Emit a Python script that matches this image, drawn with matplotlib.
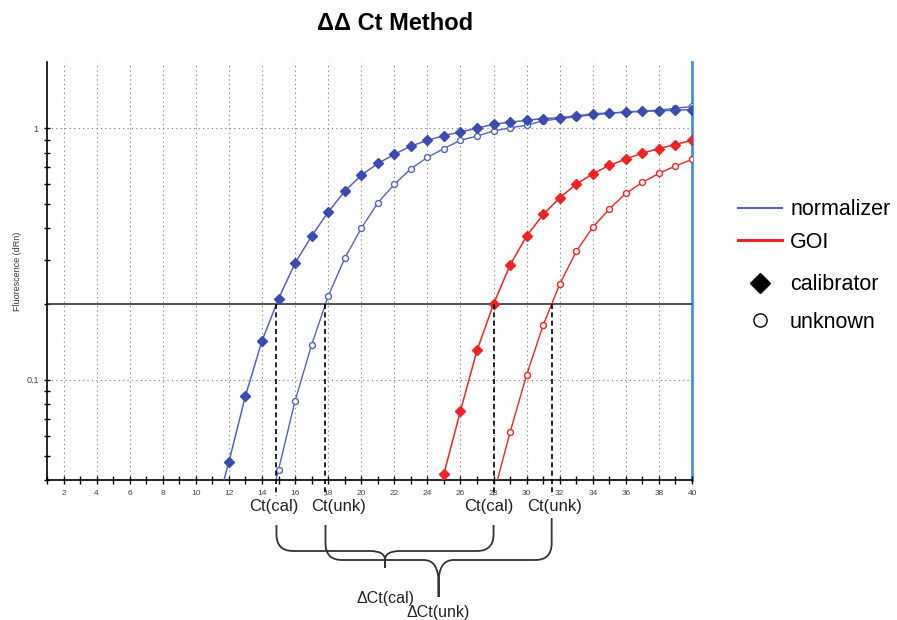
import matplotlib
matplotlib.use("Agg")
import matplotlib.pyplot as plt
import numpy as np
from matplotlib.lines import Line2D
from matplotlib.path import Path
from matplotlib.patches import PathPatch
from matplotlib.transforms import blended_transform_factory

plt.rcParams["font.family"] = ["Liberation Sans", "DejaVu Sans"]

BLUE = "#3b4cae"
BLUE_LINE = "#5563c0"
RED = "#ee2424"
EDGE_BLUE = "#4a90d9"

# fluorescence readings (dRn) per cycle
norm_cal_cycles = list(range(11, 41))
norm_cal = [0.027, 0.0473, 0.0864, 0.143, 0.21, 0.291, 0.373, 0.464, 0.562, 0.65,
            0.724, 0.787, 0.849, 0.894, 0.935, 0.966, 1.0, 1.037, 1.056, 1.075,
            1.092, 1.10, 1.12, 1.14, 1.15, 1.157, 1.167, 1.17, 1.18, 1.186]
norm_unk_cycles = list(range(14, 41))
norm_unk = [0.024, 0.044, 0.0826, 0.1377, 0.215, 0.304, 0.40, 0.505, 0.598, 0.69,
            0.765, 0.83, 0.896, 0.93, 0.975, 1.003, 1.028, 1.07, 1.09, 1.11,
            1.13, 1.145, 1.16, 1.17, 1.18, 1.2, 1.22]
goi_cal_cycles = list(range(24, 41))
goi_cal = [0.024, 0.0424, 0.0753, 0.131, 0.2, 0.286, 0.373, 0.454, 0.529, 0.599,
           0.659, 0.712, 0.754, 0.796, 0.83, 0.861, 0.896]
goi_unk_cycles = list(range(28, 41))
goi_unk = [0.035, 0.062, 0.1047, 0.165, 0.24, 0.324, 0.404, 0.477, 0.551, 0.609,
           0.661, 0.708, 0.751]

threshold = 0.2
xlim = (1, 40)
ylim = (0.04, 1.83)
x_ticks = list(range(2, 41, 2))
ct_labels = ["Ct(cal)", "Ct(unk)", "Ct(cal)", "Ct(unk)"]
ct_label_x = [14.7, 18.6, 27.7, 31.7]


def ct_of(cycles, values, thr):
    # cycle where the log curve crosses the threshold
    lv = np.log10(values)
    return float(np.interp(np.log10(thr), lv, cycles))


def brace(ax, x0, x1, top0, top1, y_h, y_cusp, y_tip, trans, r=1.0, rv=0.027, mr=0.9):
    xm = (x0 + x1) / 2
    verts = [(x0, top0), (x0, y_h + rv), (x0, y_h), (x0 + r, y_h),
             (xm - mr, y_h), (xm, y_h), (xm, y_cusp), (xm, y_tip),
             (xm, y_cusp), (xm, y_h), (xm + mr, y_h),
             (x1 - r, y_h), (x1, y_h), (x1, y_h + rv), (x1, top1)]
    codes = [Path.MOVETO, Path.LINETO, Path.CURVE3, Path.CURVE3,
             Path.LINETO, Path.CURVE3, Path.CURVE3, Path.LINETO,
             Path.LINETO, Path.CURVE3, Path.CURVE3,
             Path.LINETO, Path.CURVE3, Path.CURVE3, Path.LINETO]
    ax.add_patch(PathPatch(Path(verts, codes), fill=False, lw=1.3, ec="#333333",
                           transform=trans, clip_on=False))
    return xm


fig = plt.figure(figsize=(8.97, 6.20), dpi=100)
ax = fig.add_axes([0.0524, 0.2258, 0.7191, 0.674])
ax.set_yscale("log")
ax.set_xlim(*xlim)
ax.set_ylim(*ylim)

for x in x_ticks[:-1]:
    ax.axvline(x, color="#777777", lw=0.8, ls=(0, (1, 3)), zorder=0)
for y in [0.1, 1]:
    ax.axhline(y, color="#777777", lw=0.8, ls=(0, (1, 3)), zorder=0)
ax.axvline(40, color=EDGE_BLUE, lw=2, zorder=1, clip_on=False)
ax.axhline(threshold, color="#444444", lw=1.3, zorder=2)

ax.plot(norm_cal_cycles, norm_cal, color=BLUE_LINE, lw=1.1, marker="D", ms=4.9,
        mfc=BLUE, mec=BLUE, zorder=4)
ax.plot(norm_unk_cycles, norm_unk, color=BLUE_LINE, lw=1.0, marker="o", ms=4.3,
        mfc="white", mec=BLUE_LINE, mew=1, zorder=3)
ax.plot(goi_cal_cycles, goi_cal, color=RED, lw=1.1, marker="D", ms=4.9,
        mfc=RED, mec=RED, zorder=4)
ax.plot(goi_unk_cycles, goi_unk, color=RED, lw=1.0, marker="o", ms=4.3,
        mfc="white", mec=RED, mew=1, zorder=3)

# Ct drop lines
cts = [ct_of(norm_cal_cycles, norm_cal, threshold),
       ct_of(norm_unk_cycles, norm_unk, threshold),
       ct_of(goi_cal_cycles, goi_cal, threshold),
       ct_of(goi_unk_cycles, goi_unk, threshold)]
thr_frac = np.log(threshold / ylim[0]) / np.log(ylim[1] / ylim[0])
xtrans = ax.get_xaxis_transform()
for ct in cts:
    ax.plot([ct, ct], [thr_frac, -0.038], transform=xtrans, color="black", lw=1.2,
            ls=(0, (3, 2)), clip_on=False, zorder=5)

ax.spines["top"].set_visible(False)
ax.spines["right"].set_visible(False)
ax.spines["left"].set_linewidth(1.2)
ax.spines["bottom"].set_linewidth(1.2)
ax.set_xticks(x_ticks)
ax.set_xticks(range(1, 41), minor=True)
ax.tick_params(axis="x", which="both", direction="inout", length=6, width=1,
               labelsize=6, labelcolor="#444444", pad=4)
ax.tick_params(axis="y", which="both", direction="inout", length=5, width=1,
               labelsize=6.5, labelcolor="#444444")
ax.yaxis.set_major_formatter(plt.FuncFormatter(lambda v, p: f"{v:g}"))
ax.yaxis.set_minor_formatter(plt.NullFormatter())
ax.set_ylabel("Fluorescence (dRn)", fontsize=6.5, color="#333333", labelpad=3)

fig.text(0.44, 0.962, "ΔΔ Ct Method", ha="center", va="center", fontsize=17,
         fontweight="bold")

# Ct labels under the axis
ftrans = blended_transform_factory(ax.transData, fig.transFigure)
for lx, lab in zip(ct_label_x, ct_labels):
    ax.text(lx, 1 - 506 / 620, lab, transform=ftrans, ha="center", va="center",
            fontsize=12, color="#222222")

# braces
xm1 = brace(ax, cts[0], cts[2], 1 - 525 / 620, 1 - 525 / 620, 1 - 551 / 620,
            1 - 560 / 620, 1 - 568 / 620, ftrans, mr=0.9)
xm2 = brace(ax, cts[1], cts[3], 1 - 525 / 620, 1 - 518 / 620, 1 - 560 / 620,
            1 - 583 / 620, 1 - 597 / 620, ftrans, mr=0.9)
ax.text(xm1, 1 - 598 / 620, "ΔCt(cal)", transform=ftrans, ha="center",
        va="center", fontsize=11.5, color="#222222")
ax.text(xm2, 1 - 613 / 620, "ΔCt(unk)", transform=ftrans, ha="center",
        va="center", fontsize=11.5, color="#222222")

line_handles = [Line2D([], [], color=BLUE_LINE, lw=1.5),
                Line2D([], [], color=RED, lw=2.2)]
marker_handles = [Line2D([], [], ls="none", marker="D", ms=10.5, color="black"),
                  Line2D([], [], ls="none", marker="o", ms=9.5, mfc="white",
                         mec="black", mew=1)]
leg_kw = dict(loc="center left", frameon=False, fontsize=15.5, handlelength=2.05,
              handletextpad=0.37, borderpad=0, borderaxespad=0)
fig.legend(line_handles, ["normalizer", "GOI"],
           bbox_to_anchor=(738 / 897, 1 - 226 / 620), labelspacing=0.55, **leg_kw)
fig.legend(marker_handles, ["calibrator", "unknown"],
           bbox_to_anchor=(738 / 897, 1 - 303.5 / 620), labelspacing=0.78, **leg_kw)

fig.savefig("out.png", dpi=100)
